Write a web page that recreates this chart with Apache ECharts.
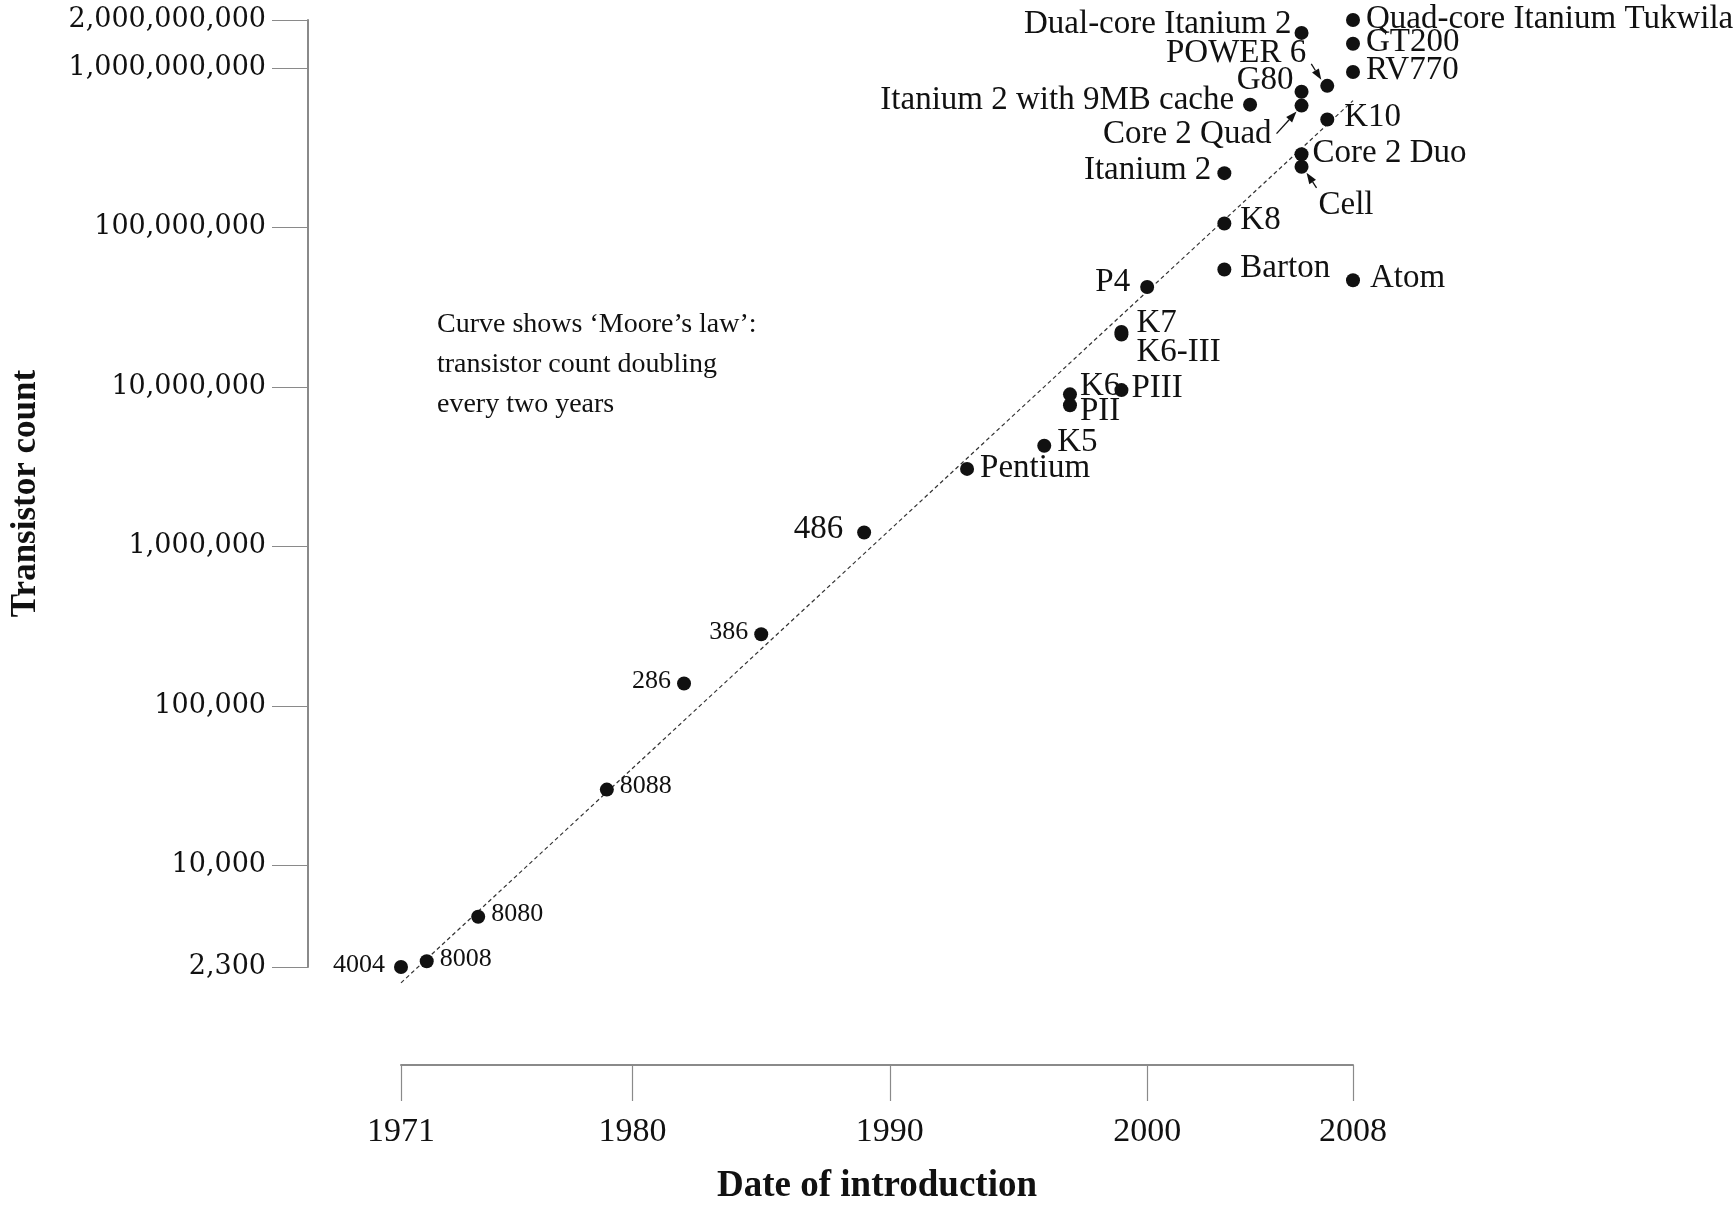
<!DOCTYPE html>
<html>
<head>
<meta charset="utf-8">
<title>Moore's law</title>
<script src="https://cdn.jsdelivr.net/npm/echarts@6.0.0/dist/echarts.min.js"></script>
<style>
    html, body { margin: 0; padding: 0; background: #fff; }
    #chart { width: 1736px; height: 1210px; }
</style>
</head>
<body>
<div id="chart"></div>
<script>
// Chips, year of introduction and transistor count
var chipNames = ['4004', '8008', '8080', '8088', '286', '386', '486', 'Pentium', 'K5', 'PII',
    'K6', 'PIII', 'K6-III', 'K7', 'P4', 'Barton', 'K8', 'Itanium 2', 'Itanium 2 with 9MB cache', 'Cell',
    'Core 2 Duo', 'Core 2 Quad', 'G80', 'Dual-core Itanium 2', 'POWER 6', 'K10',
    'Quad-core Itanium Tukwila', 'GT200', 'RV770', 'Atom'];
var chipYears = [1971, 1972, 1974, 1979, 1982, 1985, 1989, 1993, 1996, 1997,
    1997, 1999, 1999, 1999, 2000, 2003, 2003, 2003, 2004, 2006,
    2006, 2006, 2006, 2006, 2007, 2007,
    2008, 2008, 2008, 2008];
var chipCounts = [2300, 2500, 4750, 29800, 138000, 281000, 1220000, 3060000, 4270000, 7670000,
    8980000, 9550000, 21300000, 22100000, 42300000, 54500000, 105900000, 219000000, 589000000, 240000000,
    288000000, 581000000, 710000000, 1660000000, 773000000, 475000000,
    2000000000, 1420000000, 944000000, 46600000];

// Moore's law curve, end points
var trendYears = [1971, 2008];
var trendCounts = [1830, 624000000];

// Tick labels
var yearTicks = [1971, 1980, 1990, 2000, 2008];
var countTicks = [2300, 10000, 100000, 1000000, 10000000, 100000000, 1000000000, 2000000000];

// Label placement: [side, dx, dy, small?]
var labelPlace = {
    '4004': ['left', -3, -2, true],
    '8008': ['right', 0, -2, true],
    '8080': ['right', 0, -3, true],
    '8088': ['right', 0, -3, true],
    '286': ['left', 0, -2, true],
    '386': ['left', 0, -2, true],
    '486': ['left', -8, -3],
    'Pentium': ['right', 0, -1],
    'K5': ['right', 0, -3],
    'PII': ['right', -3, 6],
    'K6': ['right', -3, -8],
    'PIII': ['right', -3, -2],
    'K6-III': ['right', 2, 18],
    'K7': ['right', 2, -9],
    'P4': ['left', -4, -5],
    'Barton': ['right', 3, -1],
    'K8': ['right', 3, -3],
    'Itanium 2': ['left', 0, -3],
    'Itanium 2 with 9MB cache': ['left', -3, -4],
    'Cell': ['right', 4, 39],
    'Core 2 Duo': ['right', -2, -1],
    'Core 2 Quad': ['left', -17, 29],
    'G80': ['left', 5, -11],
    'Dual-core Itanium 2': ['left', 3, -9],
    'POWER 6': ['left', -8, -32],
    'K10': ['right', 4, -2],
    'Quad-core Itanium Tukwila': ['right', 0, -1],
    'GT200': ['right', 0, -1],
    'RV770': ['right', 0, -2],
    'Atom': ['right', 4, -2]
};

// Arrows: chip, tail offset, tip offset (px from the dot)
var arrows = [
    ['POWER 6', [-16, -22], [-6, -6]],
    ['Core 2 Quad', [-25, 28], [-5, 6]],
    ['Cell', [15, 21], [5, 6]]
];

var serif = '"Liberation Serif", "Times New Roman", serif';
var ink = '#111';
var axisGrey = '#8a8a8a';

var chipData = chipNames.map(function (name, i) {
    var p = labelPlace[name];
    return {
        name: name,
        value: [chipYears[i], chipCounts[i]],
        label: {
            position: p[0],
            offset: [p[1], p[2]],
            fontSize: p[3] ? 26 : 33
        }
    };
});

var trendData = trendYears.map(function (y, i) {
    return [y, trendCounts[i]];
});

var chart = echarts.init(document.getElementById('chart'), null, { renderer: 'canvas' });

chart.setOption({
    animation: false,
    backgroundColor: '#fff',
    textStyle: { fontFamily: serif, color: ink },
    grid: { left: 393, right: 383, top: 20, bottom: 238, containLabel: false },
    xAxis: {
        type: 'value',
        min: 1971,
        max: 2008,
        offset: 98,
        name: 'Date of introduction',
        nameLocation: 'middle',
        nameGap: 103,
        nameTextStyle: { fontFamily: serif, fontSize: 37, fontWeight: 'bold', color: ink },
        axisLine: { lineStyle: { color: axisGrey, width: 2 } },
        axisTick: { show: true, length: 36, lineStyle: { color: axisGrey, width: 1.2 }, customValues: yearTicks },
        axisLabel: { margin: 50, fontFamily: serif, fontSize: 34, color: ink, customValues: yearTicks,
            formatter: function (v) { return String(v); } },
        splitLine: { show: false }
    },
    yAxis: {
        type: 'log',
        min: 2300,
        max: 2000000000,
        offset: 93,
        name: 'Transistor count',
        nameLocation: 'middle',
        nameGap: 265,
        nameTextStyle: { fontFamily: serif, fontSize: 35, fontWeight: 'bold', color: ink },
        axisLine: { show: true, lineStyle: { color: axisGrey, width: 2 } },
        axisTick: { show: true, length: 36, lineStyle: { color: axisGrey, width: 1.2 }, customValues: countTicks },
        axisLabel: { margin: 42, fontFamily: '"DejaVu Serif", serif', fontSize: 27, color: ink,
            customValues: countTicks,
            formatter: function (v) { return Math.round(v).toLocaleString('en-US'); } },
        splitLine: { show: false },
        minorTick: { show: false }
    },
    series: [
        {
            name: 'Moore\'s law',
            type: 'line',
            data: trendData,
            symbol: 'none',
            silent: true,
            clip: false,
            lineStyle: { color: '#333', width: 1.2, type: [4, 3] },
            z: 1
        },
        {
            name: 'Chips',
            type: 'scatter',
            data: chipData,
            symbolSize: 14,
            itemStyle: { color: ink, opacity: 1 },
            label: {
                show: true,
                distance: 6,
                fontFamily: serif,
                color: ink,
                formatter: '{b}'
            },
            z: 3
        }
    ]
});

// Note and arrows, placed from the chart's own scales
var graphics = [{
    type: 'text',
    left: 437,
    top: 305,
    style: {
        text: 'Curve shows \u2018Moore\u2019s law\u2019:\ntransistor count doubling\nevery two years',
        font: '28px ' + serif,
        fill: ink,
        lineHeight: 40
    }
}];

arrows.forEach(function (a) {
    var i = chipNames.indexOf(a[0]);
    var c = chart.convertToPixel({ gridIndex: 0 }, [chipYears[i], chipCounts[i]]);
    var x1 = c[0] + a[1][0], y1 = c[1] + a[1][1];
    var x2 = c[0] + a[2][0], y2 = c[1] + a[2][1];
    var ang = Math.atan2(y2 - y1, x2 - x1);
    var len = 11, half = 4;
    var bx = x2 - len * Math.cos(ang), by = y2 - len * Math.sin(ang);
    graphics.push({
        type: 'line',
        shape: { x1: x1, y1: y1, x2: bx, y2: by },
        style: { stroke: ink, lineWidth: 1.3 }
    });
    graphics.push({
        type: 'polygon',
        shape: { points: [
            [x2, y2],
            [bx + half * Math.sin(ang), by - half * Math.cos(ang)],
            [bx - half * Math.sin(ang), by + half * Math.cos(ang)]
        ] },
        style: { fill: ink }
    });
});

chart.setOption({ graphic: graphics });
</script>
</body>
</html>
